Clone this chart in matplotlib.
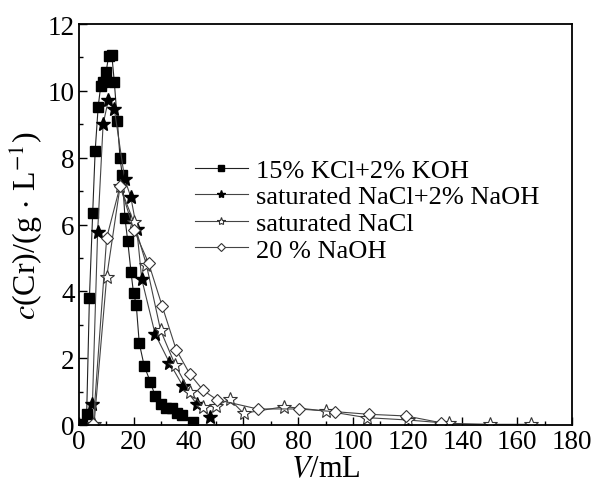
import matplotlib
matplotlib.use("Agg")
import matplotlib.pyplot as plt
from matplotlib.ticker import MultipleLocator

plt.rcParams['font.family'] = ['Liberation Serif', 'DejaVu Serif']
plt.rcParams['mathtext.fontset'] = 'stix'

# 15% KCl+2% KOH
v_kcl = [1, 2.8, 3.8, 5.0, 5.9, 7.0, 7.9, 8.9, 9.9, 10.8, 12.0, 12.9, 14.0, 15.0, 15.8,
         16.8, 17.8, 19.0, 19.9, 20.9, 22.0, 23.8, 26.0, 27.8, 29.9, 31.8, 33.9, 35.7, 37.6, 41.6]
c_kcl = [0.03, 0.33, 3.8, 6.35, 8.2, 9.52, 10.13, 10.27, 10.57, 11.03, 11.06, 10.25, 9.1, 7.98, 7.48,
         6.18, 5.5, 4.57, 3.95, 3.6, 2.45, 1.77, 1.3, 0.87, 0.63, 0.5, 0.5, 0.37, 0.3, 0.1]

# saturated NaCl+2% NaOH
v_nacl_naoh = [4.9, 6.8, 8.8, 10.7, 12.9, 16.7, 18.9, 21.1, 22.9, 27.8, 33.0, 37.9, 43.0, 47.9]
c_nacl_naoh = [0.63, 5.77, 9.0, 9.72, 9.45, 7.35, 6.83, 5.86, 4.37, 2.72, 1.87, 1.17, 0.63, 0.25]

# saturated NaCl
v_nacl = [5.5, 10.1, 15.0, 20.0, 24.6, 29.8, 35.1, 40.4, 45.3, 50.1, 55.0, 60.1, 75.0, 90.0,
          105.0, 120.0, 135.0, 150.0, 165.0]
c_nacl = [0.03, 4.42, 7.14, 6.07, 4.8, 2.83, 1.8, 1.0, 0.55, 0.57, 0.77, 0.35, 0.55, 0.42,
          0.22, 0.15, 0.05, 0.02, 0.02]

# 20 % NaOH
v_naoh = [5.2, 10.1, 15.0, 20.0, 25.4, 30.4, 35.5, 40.5, 45.3, 50.3, 65.2, 80.2, 93.3,
          106.0, 119.5, 132.0]
c_naoh = [0.03, 5.6, 7.15, 5.85, 4.85, 3.55, 2.25, 1.52, 1.04, 0.76, 0.48, 0.48, 0.4,
          0.32, 0.27, 0.07]

labels = ["15% KCl+2% KOH", "saturated NaCl+2% NaOH", "saturated NaCl", "20 % NaOH"]

fig = plt.figure(figsize=(5.94, 4.89), dpi=100)
ax = fig.add_axes([79/594, 1-426/489, (572-79)/594, (426-25)/489])

lc = '#222222'
ax.plot(v_kcl, c_kcl, color=lc, lw=0.8, marker='s', ms=6.5, mfc='black', mec='black', label=labels[0])
ax.plot(v_nacl_naoh, c_nacl_naoh, color='#444444', lw=0.8, marker='*', ms=10, mfc='black', mec='black',
        label=labels[1])
ax.plot(v_nacl, c_nacl, color='#444444', lw=0.8, marker='*', ms=10, mfc='white', mec='#333333',
        mew=0.8, label=labels[2])
ax.plot(v_naoh, c_naoh, color='#444444', lw=0.8, marker='D', ms=6.5, mfc='white', mec='#333333',
        mew=0.8, label=labels[3])

ax.set_xlim(0, 180)
ax.set_ylim(0, 12)
ax.xaxis.set_major_locator(MultipleLocator(20))
ax.xaxis.set_minor_locator(MultipleLocator(10))
ax.yaxis.set_major_locator(MultipleLocator(2))
ax.yaxis.set_minor_locator(MultipleLocator(1))
ax.tick_params(which='both', direction='in', top=False, right=False, labelsize=19.5)
ax.tick_params(which='major', length=6, width=1, pad=3)
ax.tick_params(which='minor', length=3, width=1)
for s in ax.spines.values():
    s.set_linewidth(1.3)

ax.set_xlabel(r"$V$/mL", fontsize=22, labelpad=0)
ax.set_ylabel(r"$c$(Cr)/(g$\,\cdot\,$L$^{-1}$)", fontsize=23, labelpad=2)

ax.legend(loc='upper left', bbox_to_anchor=(0.235, 0.665), frameon=False, fontsize=19,
          handlelength=2.0, handletextpad=0.3, labelspacing=0.12, markerscale=0.6,
          borderpad=0.0, borderaxespad=0.0)

fig.savefig("out.png", dpi=100)
